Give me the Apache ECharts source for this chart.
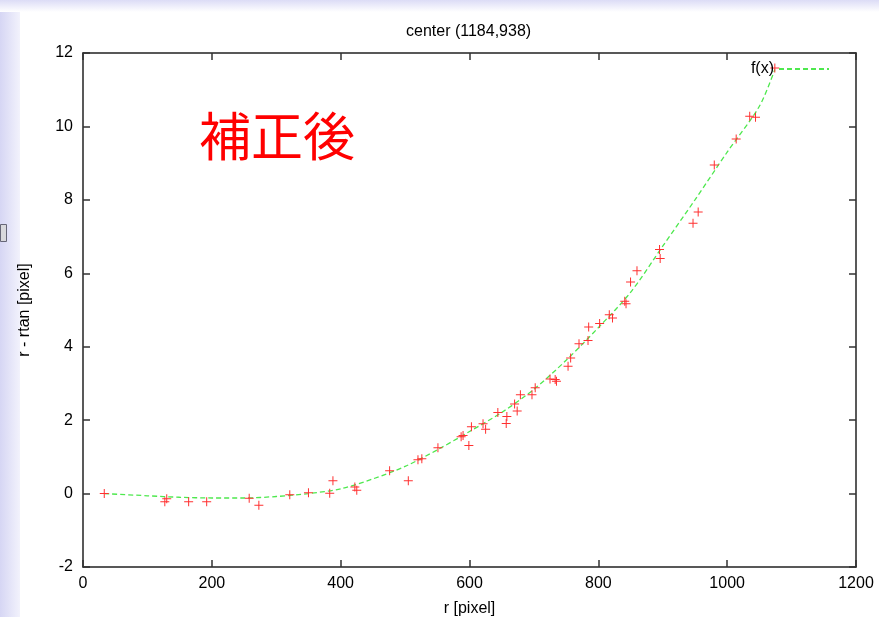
<!DOCTYPE html>
<html>
<head>
    <meta charset="utf-8">
    <script src="https://cdn.jsdelivr.net/npm/echarts@6/dist/echarts.min.js"></script>
    <style>
        body { margin: 0; background: #fff; }
    </style>
</head>
<body>
    <div id="main" style="width: 879px;height:617px;"></div>
    <script type="text/javascript">
        // measured points (r, r - rtan)
        var pointR = [33, 127, 130, 164, 192, 258, 273, 321, 350, 383, 388, 422, 425, 476, 505,
            520, 526, 551, 587, 590, 599, 603, 621, 625, 644, 657, 658, 670, 674, 679,
            697, 702, 725, 733, 735, 753, 757, 770, 784, 785, 802, 817, 822, 841, 843,
            850, 860, 895, 896, 947, 955, 980, 1014, 1035, 1044, 1074];
        var pointD = [0.00, -0.22, -0.14, -0.22, -0.22, -0.13, -0.32, -0.03, 0.02, 0.01, 0.35, 0.18, 0.09, 0.62, 0.35,
            0.92, 0.95, 1.25, 1.55, 1.58, 1.31, 1.82, 1.90, 1.75, 2.21, 1.91, 2.10, 2.44, 2.25, 2.69,
            2.69, 2.88, 3.12, 3.11, 3.06, 3.47, 3.69, 4.08, 4.17, 4.54, 4.63, 4.87, 4.78, 5.24, 5.17,
            5.76, 6.07, 6.65, 6.40, 7.36, 7.67, 8.95, 9.66, 10.28, 10.25, 11.59];

        // fitted curve f(x)
        var fitR = [33, 100, 150, 200, 250, 300, 350, 400, 450, 500, 550, 600, 650, 700, 750, 800, 850, 900, 950, 1000, 1050, 1074];
        var fitD = [0.00, -0.06, -0.10, -0.12, -0.12, -0.08, 0.00, 0.13, 0.40, 0.74, 1.19, 1.69, 2.21, 2.84, 3.63, 4.52, 5.48, 6.74, 8.00, 9.30, 10.55, 11.55];

        var xTicks = [0, 1200, 200];   // min, max, interval
        var yTicks = [-2, 12, 2];

        var points = pointR.map(function (r, i) { return [r, pointD[i]]; });
        var fit = fitR.map(function (r, i) { return [r, fitD[i]]; });

        var font = 'Liberation Sans';
        var axisCommon = {
            axisLine: { onZero: false, lineStyle: { color: '#222', width: 1.5 } },
            axisTick: { inside: true, length: 7, lineStyle: { color: '#333', width: 1.5 } },
            splitLine: { show: false }
        };
        var plainNum = function (v) { return String(v); };

        option = {
            animation: false,
            textStyle: { fontFamily: font },
            title: {
                text: 'center (1184,938)',
                left: 401,
                top: 19,
                textStyle: { fontFamily: font, fontSize: 16, fontWeight: 'normal', color: '#000' }
            },
            legend: {
                data: ['f(x)'],
                right: 44,
                top: 56,
                align: 'right',
                itemWidth: 50,
                itemHeight: 10,
                itemStyle: { opacity: 0 },
                textStyle: { fontFamily: font, fontSize: 16, color: '#000' }
            },
            grid: { left: 83, right: 23, top: 53, bottom: 50, outerBoundsMode: 'none', containLabel: false },
            xAxis: [
                Object.assign({
                    type: 'value',
                    min: xTicks[0], max: xTicks[1], interval: xTicks[2],
                    name: 'r [pixel]',
                    nameLocation: 'middle',
                    nameGap: 34,
                    nameTextStyle: { fontFamily: font, fontSize: 16, color: '#000' },
                    axisLabel: { fontFamily: font, fontSize: 16, color: '#000', margin: 9, formatter: plainNum }
                }, axisCommon),
                Object.assign({
                    type: 'value', position: 'top',
                    min: xTicks[0], max: xTicks[1], interval: xTicks[2],
                    axisLabel: { show: false }
                }, axisCommon)
            ],
            yAxis: [
                Object.assign({
                    type: 'value',
                    min: yTicks[0], max: yTicks[1], interval: yTicks[2],
                    name: 'r - rtan [pixel]',
                    nameLocation: 'middle',
                    nameGap: 50,
                    nameTextStyle: { fontFamily: font, fontSize: 16, color: '#000' },
                    axisLabel: { fontFamily: font, fontSize: 16, color: '#000', margin: 10, formatter: plainNum }
                }, axisCommon),
                Object.assign({
                    type: 'value', position: 'right',
                    min: yTicks[0], max: yTicks[1], interval: yTicks[2],
                    axisLabel: { show: false }
                }, axisCommon)
            ],
            graphic: [
                {
                    type: 'rect', left: 0, top: 0, z: -10,
                    shape: { width: 20, height: 617 },
                    style: {
                        fill: new echarts.graphic.LinearGradient(0, 0, 1, 0, [
                            { offset: 0, color: '#d6d6f4' }, { offset: 1, color: '#f2f2fc' }
                        ])
                    }
                },
                {
                    type: 'rect', left: 0, top: 0, z: -10,
                    shape: { width: 879, height: 12 },
                    style: {
                        fill: new echarts.graphic.LinearGradient(0, 0, 0, 1, [
                            { offset: 0, color: '#dcdcf6' }, { offset: 1, color: '#ffffff' }
                        ])
                    }
                },
                {
                    type: 'rect', left: 0, top: 224, z: -9,
                    shape: { width: 6, height: 17 },
                    style: { fill: '#d8d8dc', stroke: '#667', lineWidth: 1 }
                },
                {
                    type: 'text',
                    left: 199,
                    top: 110,
                    style: {
                        text: '補正後',
                        fill: '#ff0000',
                        font: '52px "Noto Sans CJK JP"'
                    }
                }
            ],
            series: [
                {
                    name: 'f(x)',
                    type: 'line',
                    symbol: 'none',
                    smooth: 0.3,
                    z: 2,
                    lineStyle: { color: '#4ee84e', width: 1.3, type: [5, 3] },
                    itemStyle: { color: '#4ee84e' },
                    data: fit
                },
                {
                    name: 'data',
                    type: 'scatter',
                    symbol: 'path://M4,0H5V9H4Z M0,4H9V5H0Z',
                    symbolSize: 9,
                    z: 3,
                    itemStyle: { color: '#ff3030', opacity: 1 },
                    data: points
                }
            ]
        };

        var myChart = echarts.init(document.getElementById('main'));
        myChart.setOption(option);
    </script>
</body>
</html>
